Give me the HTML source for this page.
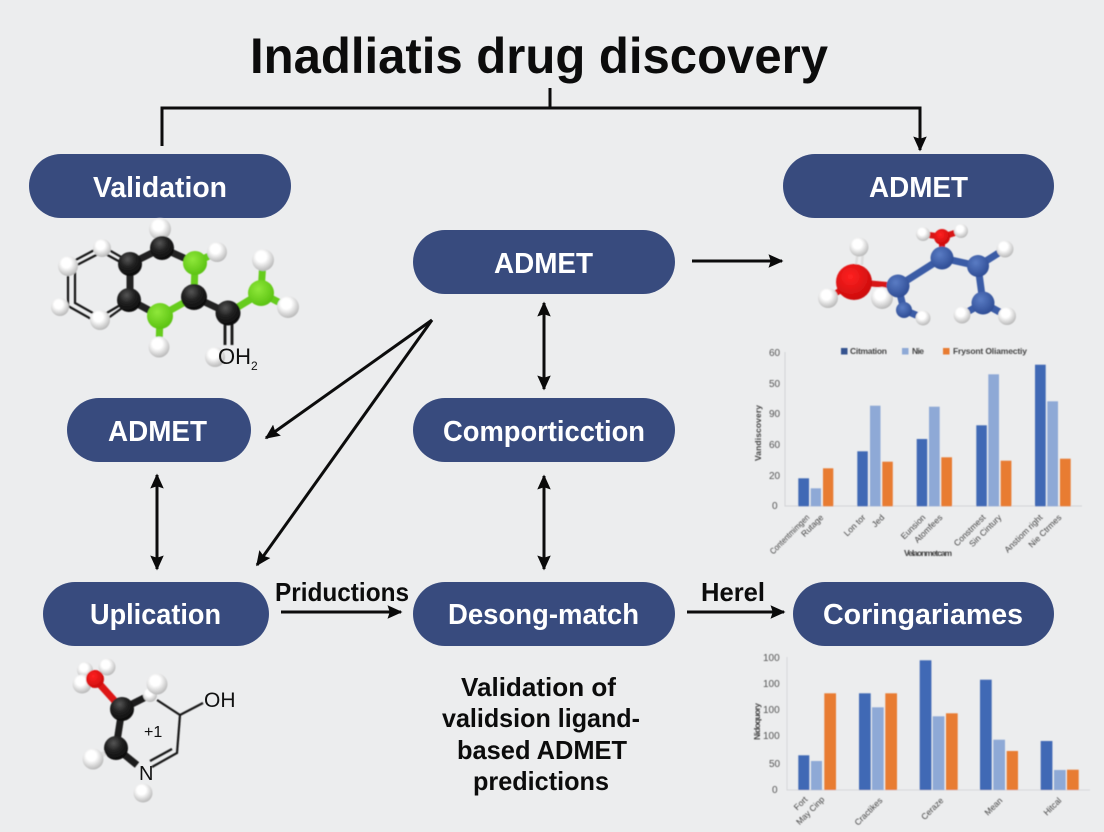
<!DOCTYPE html>
<html><head><meta charset="utf-8"><style>
html,body{margin:0;padding:0;background:#ecedee}
svg{display:block}
text{font-family:"Liberation Sans",sans-serif}
.p{fill:#fff;font-weight:700;font-size:29px;text-anchor:middle}
.b{fill:#0c0c0c;font-weight:700;font-size:26px}
.t{fill:#555;font-size:10px}
.s{fill:#444;font-size:8.500px}
.k{fill:#111}
</style></head><body>
<svg width="1104" height="832" viewBox="0 0 1104 832" xmlns="http://www.w3.org/2000/svg">
<defs>
<radialGradient id="w" cx="42%" cy="35%" r="68%"><stop offset="0.35" stop-color="#fff"/><stop offset="1" stop-color="#b4b4b4"/></radialGradient>
<radialGradient id="c" cx="40%" cy="30%" r="72%"><stop offset="0" stop-color="#555"/><stop offset="0.45" stop-color="#222"/><stop offset="1" stop-color="#0a0a0a"/></radialGradient>
<radialGradient id="g" cx="40%" cy="35%" r="70%"><stop offset="0" stop-color="#8fe83a"/><stop offset="1" stop-color="#58c010"/></radialGradient>
<radialGradient id="r" cx="40%" cy="35%" r="70%"><stop offset="0" stop-color="#f22"/><stop offset="1" stop-color="#c80a0a"/></radialGradient>
<radialGradient id="u" cx="40%" cy="35%" r="70%"><stop offset="0" stop-color="#5a7cc4"/><stop offset="1" stop-color="#2c4a92"/></radialGradient>
<marker id="a" viewBox="0 0 10 10" refX="9" refY="5" markerWidth="5" markerHeight="5" orient="auto-start-reverse" markerUnits="strokeWidth"><path d="M0 0.500L10 5L0 9.500L1.500 5Z" fill="#0a0a0a"/></marker>
<filter id="bl" x="-5%" y="-5%" width="110%" height="110%"><feGaussianBlur stdDeviation="0.45"/></filter>
<filter id="bm" x="-5%" y="-5%" width="110%" height="110%"><feGaussianBlur stdDeviation="0.5"/></filter>
</defs>
<rect width="1104" height="832" fill="#ecedee"/>

<text x="250" y="73" font-size="50" font-weight="700" fill="#0c0c0c" textLength="578" lengthAdjust="spacingAndGlyphs">Inadliatis drug discovery</text>

<g fill="none" stroke="#0c0c0c" stroke-width="3">
<path d="M162 146V108H920V150" marker-end="url(#a)"/>
<path d="M550 88V108"/>
<path d="M692 261H782" marker-end="url(#a)"/>
<path d="M432 320L266 438" marker-end="url(#a)"/>
<path d="M432 320L257 565" marker-end="url(#a)"/>
<path d="M544 303V389" marker-start="url(#a)" marker-end="url(#a)"/>
<path d="M544 476V569" marker-start="url(#a)" marker-end="url(#a)"/>
<path d="M157 475V569" marker-start="url(#a)" marker-end="url(#a)"/>
<path d="M281 612H401" marker-end="url(#a)"/>
<path d="M687 612H784" marker-end="url(#a)"/>
</g>

<g fill="#384b7e">
<rect x="29" y="154" width="262" height="64" rx="32"/>
<rect x="783" y="154" width="271" height="64" rx="32"/>
<rect x="413" y="230" width="262" height="64" rx="32"/>
<rect x="67" y="398" width="184" height="64" rx="32"/>
<rect x="413" y="398" width="262" height="64" rx="32"/>
<rect x="43" y="582" width="226" height="64" rx="32"/>
<rect x="413" y="582" width="262" height="64" rx="32"/>
<rect x="793" y="582" width="261" height="64" rx="32"/>
</g>
<text class="p" x="160" y="197" textLength="134" lengthAdjust="spacingAndGlyphs">Validation</text>
<text class="p" x="918.500" y="197" textLength="99" lengthAdjust="spacingAndGlyphs">ADMET</text>
<text class="p" x="543.500" y="273" textLength="99" lengthAdjust="spacingAndGlyphs">ADMET</text>
<text class="p" x="157.500" y="441" textLength="99" lengthAdjust="spacingAndGlyphs">ADMET</text>
<text class="p" x="544" y="441" textLength="202" lengthAdjust="spacingAndGlyphs">Comporticction</text>
<text class="p" x="155.500" y="624" textLength="131" lengthAdjust="spacingAndGlyphs">Uplication</text>
<text class="p" x="543.500" y="624" textLength="191" lengthAdjust="spacingAndGlyphs">Desong-match</text>
<text class="p" x="923" y="624" textLength="200" lengthAdjust="spacingAndGlyphs">Coringariames</text>

<text class="b" x="275" y="601" textLength="134" lengthAdjust="spacingAndGlyphs">Priductions</text>
<text class="b" x="701" y="601" textLength="64" lengthAdjust="spacingAndGlyphs">Herel</text>
<text class="b" x="461" y="696" textLength="155" lengthAdjust="spacingAndGlyphs">Validation of</text>
<text class="b" x="442" y="727" textLength="198" lengthAdjust="spacingAndGlyphs">validsion ligand-</text>
<text class="b" x="457" y="759" textLength="170" lengthAdjust="spacingAndGlyphs">based ADMET</text>
<text class="b" x="473" y="790" textLength="136" lengthAdjust="spacingAndGlyphs">predictions</text>

<!-- molecule 1 -->
<g filter="url(#bm)">
<g fill="none" stroke="#151515" stroke-width="2.200">
<path d="M130 262L102 246L68 264V306L100 324L129 303"/>
<path d="M122 263L102 252L75 266V303L100 317L122 304"/>
</g>
<g fill="none" stroke="#222" stroke-width="7">
<path d="M130 264L162 248L195 263"/><path d="M130 264V300L160 316"/><path d="M194 297L228 313"/>
</g>
<g fill="none" stroke="#66cc1c" stroke-width="7">
<path d="M195 263L194 297"/><path d="M160 316L194 297"/><path d="M160 316L159 347"/><path d="M228 313L261 293"/><path d="M261 293L263 260"/><path d="M261 293L288 307"/><path d="M195 263L217 252"/>
</g>
<path d="M225 320V345M232 320V345" stroke="#151515" stroke-width="2.800" fill="none"/>
<circle cx="102" cy="248" r="9" fill="url(#w)"/><circle cx="68" cy="266" r="10" fill="url(#w)"/><circle cx="60" cy="307" r="9" fill="url(#w)"/><circle cx="100" cy="320" r="10" fill="url(#w)"/>
<circle cx="160" cy="229" r="11" fill="url(#w)"/><circle cx="217" cy="252" r="10" fill="url(#w)"/><circle cx="263" cy="260" r="11" fill="url(#w)"/><circle cx="288" cy="307" r="11" fill="url(#w)"/><circle cx="159" cy="347" r="10.500" fill="url(#w)"/><circle cx="215" cy="357" r="10" fill="url(#w)"/>
<circle cx="162" cy="248" r="12" fill="url(#c)"/><circle cx="130" cy="264" r="12" fill="url(#c)"/><circle cx="129" cy="300" r="12" fill="url(#c)"/><circle cx="194" cy="297" r="13" fill="url(#c)"/><circle cx="228" cy="313" r="12.500" fill="url(#c)"/>
<circle cx="195" cy="263" r="12" fill="url(#g)"/><circle cx="160" cy="316" r="13" fill="url(#g)"/><circle cx="261" cy="293" r="13" fill="url(#g)"/>
</g>
<text x="218" y="364" font-size="22" class="k">OH</text><text x="251" y="370" font-size="12" class="k">2</text>

<!-- molecule 2 -->
<g filter="url(#bm)">
<g fill="none" stroke="#3a5ba6" stroke-width="7">
<path d="M898 286L942 258L978 266L983 303"/><path d="M898 286L904 310L923 318"/><path d="M978 266L1005 249"/><path d="M983 303L962 315M983 303L1007 316"/>
</g>
<path d="M854 282L898 286M854 282L828 298M942 258L942 237M923 234L942 237L961 231" fill="none" stroke="#d81414" stroke-width="6"/>
<path d="M856 265L858 250M862 265L863 250" stroke="#ddd" stroke-width="2.500"/>
<circle cx="859" cy="247" r="9.500" fill="url(#w)"/><circle cx="828" cy="298" r="10" fill="url(#w)"/>
<circle cx="923" cy="234" r="7" fill="url(#w)"/><circle cx="961" cy="231" r="7" fill="url(#w)"/>
<circle cx="923" cy="318" r="7.500" fill="url(#w)"/><circle cx="1005" cy="249" r="8.500" fill="url(#w)"/><circle cx="962" cy="315" r="8.500" fill="url(#w)"/><circle cx="1007" cy="316" r="9" fill="url(#w)"/>
<circle cx="854" cy="282" r="18" fill="url(#r)"/>
<circle cx="882" cy="298" r="11" fill="url(#w)"/>
<circle cx="942" cy="237" r="8" fill="url(#r)"/>
<circle cx="898" cy="286" r="11.500" fill="url(#u)"/><circle cx="904" cy="310" r="8" fill="url(#u)"/><circle cx="942" cy="258" r="11.500" fill="url(#u)"/><circle cx="978" cy="266" r="11" fill="url(#u)"/><circle cx="983" cy="303" r="11.500" fill="url(#u)"/>
</g>

<!-- molecule 3 -->
<g filter="url(#bm)">
<path d="M95 679L122 709" stroke="#dd1414" stroke-width="7" fill="none"/>
<path d="M122 709L116 748M122 709L150 695M116 748L137 765" stroke="#1c1c1c" stroke-width="7" fill="none"/>
<path d="M116 748L93 759" stroke="#ddd" stroke-width="5" fill="none"/>
<path d="M157 700L180 715L203 703M180 715L177 753L152 767M172 749L150 761" stroke="#151515" stroke-width="2.200" fill="none"/>
<circle cx="85" cy="670" r="8" fill="url(#w)"/><circle cx="107" cy="667" r="8.500" fill="url(#w)"/><circle cx="82" cy="684" r="9.500" fill="url(#w)"/>
<circle cx="95" cy="679" r="9" fill="url(#r)"/>
<circle cx="150" cy="695" r="7" fill="url(#w)"/><circle cx="157" cy="684" r="10.500" fill="url(#w)"/><circle cx="93" cy="759" r="10.500" fill="url(#w)"/><circle cx="143" cy="793" r="9.500" fill="url(#w)"/>
<circle cx="122" cy="709" r="12" fill="url(#c)"/><circle cx="116" cy="748" r="12" fill="url(#c)"/>
</g>
<text x="204" y="707" font-size="21" class="k">OH</text>
<text x="144" y="737" font-size="16" class="k">+1</text>
<text x="139" y="780" font-size="20" class="k">N</text>

<!-- chart 1 -->
<g filter="url(#bl)">
<path d="M785 352V506H1082" fill="none" stroke="#d2d3d6" stroke-width="1"/>
<text class="t" x="769" y="356">60</text><text class="t" x="769" y="387">50</text><text class="t" x="769" y="417">90</text><text class="t" x="769" y="448">60</text><text class="t" x="769" y="479">20</text><text class="t" x="772" y="509">0</text>
<text class="s" transform="translate(761,461) rotate(-90)" textLength="56" font-weight="700">Vandiscovery</text>
<g fill="#3f69b5">
<rect x="798.300" y="478.300" width="10.700" height="28"/><rect x="857.300" y="451.300" width="10.500" height="55"/><rect x="916.700" y="439" width="10.500" height="67.300"/><rect x="976.300" y="425.300" width="10.500" height="81"/><rect x="1035" y="364.700" width="10.700" height="141.600"/>
</g>
<g fill="#8ea9d6">
<rect x="810.700" y="488.300" width="10.300" height="18"/><rect x="870" y="405.700" width="10.500" height="100.600"/><rect x="929" y="406.700" width="10.700" height="99.600"/><rect x="988.300" y="374.300" width="10.700" height="132"/><rect x="1047.300" y="401.300" width="10.700" height="105"/>
</g>
<g fill="#e87c30">
<rect x="823" y="468.300" width="10.300" height="38"/><rect x="882.300" y="461.700" width="10.500" height="44.600"/><rect x="941.300" y="457.300" width="10.700" height="49"/><rect x="1000.700" y="460.700" width="10.700" height="45.600"/><rect x="1060" y="458.700" width="10.700" height="47.600"/>
</g>
<rect x="841" y="348" width="6.500" height="6.500" fill="#35528f"/><text class="s" x="850" y="354" textLength="37" font-weight="700">Citmation</text>
<rect x="902" y="348" width="6.500" height="6.500" fill="#8ea9d6"/><text class="s" x="912" y="354" textLength="12" font-weight="700">Nie</text>
<rect x="943" y="348" width="6.500" height="6.500" fill="#e87c30"/><text class="s" x="953" y="354" textLength="74" font-weight="700">Frysont Oliamectiy</text>
<g text-anchor="end">
<text transform="translate(810,518) rotate(-45)" class="s" textLength="52" lengthAdjust="spacingAndGlyphs">Contentmimgen</text>
<text transform="translate(824,518) rotate(-45)" class="s">Rutage</text>
<text transform="translate(866,518) rotate(-45)" class="s">Lon tor</text>
<text transform="translate(885,518) rotate(-45)" class="s">Jed</text>
<text transform="translate(926,518) rotate(-45)" class="s">Eunsion</text>
<text transform="translate(943,518) rotate(-45)" class="s">Atomfees</text>
<text transform="translate(986,518) rotate(-45)" class="s">Constmest</text>
<text transform="translate(1002,518) rotate(-45)" class="s">Sin Cintury</text>
<text transform="translate(1043,518) rotate(-45)" class="s">Anstiom right</text>
<text transform="translate(1062,518) rotate(-45)" class="s">Nie Ctrmes</text>
</g>
<text class="s" x="904" y="556" textLength="48" font-weight="700">Velaonmetcam</text>
</g>

<!-- chart 2 -->
<g filter="url(#bl)">
<path d="M787 657V790H1090" fill="none" stroke="#d6d7da" stroke-width="1"/>
<text class="t" x="763" y="661">100</text><text class="t" x="763" y="687">100</text><text class="t" x="763" y="713">100</text><text class="t" x="763" y="739">100</text><text class="t" x="769" y="767">50</text><text class="t" x="772" y="793">0</text>
<text class="s" transform="translate(760,740) rotate(-90)" textLength="37" font-weight="700">Nidoquory</text>
<g fill="#3f69b5">
<rect x="798.300" y="755.300" width="11" height="34.700"/><rect x="859" y="693.300" width="11.700" height="96.700"/><rect x="919.700" y="660.300" width="11.700" height="129.700"/><rect x="980" y="679.700" width="11.700" height="110.300"/><rect x="1040.700" y="741" width="11.700" height="49"/>
</g>
<g fill="#8ea9d6">
<rect x="811" y="761" width="11" height="29"/><rect x="872" y="707.300" width="11.700" height="82.700"/><rect x="932.700" y="716.300" width="11.700" height="73.700"/><rect x="993.300" y="739.700" width="11.700" height="50.300"/><rect x="1054" y="770" width="11.700" height="20"/>
</g>
<g fill="#e87c30">
<rect x="824.300" y="693.300" width="11.700" height="96.700"/><rect x="885.300" y="693.300" width="11.700" height="96.700"/><rect x="946" y="713.300" width="11.700" height="76.700"/><rect x="1006.700" y="751" width="11.300" height="39"/><rect x="1067" y="769.700" width="11.700" height="20.300"/>
</g>
<g text-anchor="end">
<text transform="translate(808,800) rotate(-45)" class="s">Fort</text>
<text transform="translate(825,800) rotate(-45)" class="s">May Cinp</text>
<text transform="translate(883,801) rotate(-45)" class="s">Cractikes</text>
<text transform="translate(944,801) rotate(-45)" class="s">Ceraze</text>
<text transform="translate(1003,801) rotate(-45)" class="s">Mean</text>
<text transform="translate(1062,801) rotate(-45)" class="s">Hitcal</text>
</g>
</g>
</svg>
</body></html>
